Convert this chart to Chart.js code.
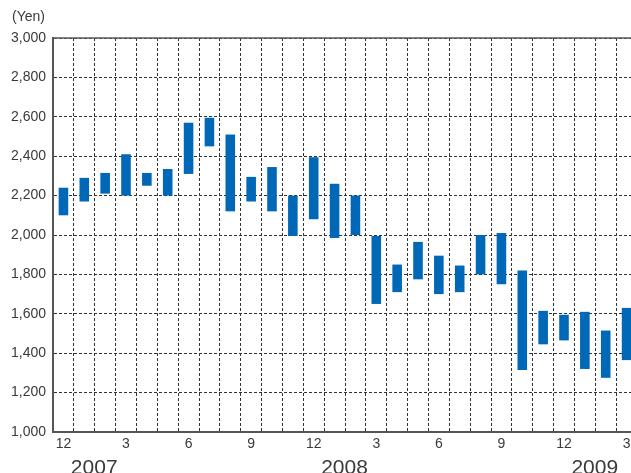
<!DOCTYPE html>
<html>
<head>
<meta charset="utf-8">
<script src="https://cdn.jsdelivr.net/npm/chart.js@4"></script>
<style>
  html, body { margin: 0; padding: 0; background: #fff; overflow: hidden; }
  #wrap { width: 660px; height: 473px; position: relative; }
</style>
</head>
<body>
<div id="wrap"><canvas id="c"></canvas></div>
<script>
// Monthly trading range, Dec 2006 – Mar 2009
const months = ['12','1','2','3','4','5','6','7','8','9','10','11',
                '12','1','2','3','4','5','6','7','8','9','10','11',
                '12','1','2','3'];
const monthlyLow  = [2100, 2170, 2210, 2200, 2250, 2200, 2310, 2450, 2120, 2170, 2120, 1995,
                     2080, 1985, 2000, 1650, 1710, 1775, 1700, 1710, 1800, 1750, 1315, 1445,
                     1465, 1320, 1275, 1365];
const monthlyHigh = [2240, 2290, 2315, 2410, 2315, 2335, 2570, 2595, 2510, 2295, 2345, 2200,
                     2395, 2260, 2200, 1995, 1850, 1965, 1895, 1845, 2000, 2010, 1820, 1615,
                     1595, 1610, 1515, 1630];
const yearLabels = ['2007', '2008', '2009'];
const yearStartIndex = [1, 13, 25];   // category index of each January
const yTicks = { min: 1000, max: 3000, step: 200 };
const unitLabel = '(Yen)';

const ranges = monthlyLow.map((lo, i) => [lo, monthlyHigh[i]]);
const TEXT = '#3a3a3a';
const FONT = '"Liberation Sans", Arial, Helvetica, sans-serif';

const decorations = {
  id: 'decorations',
  afterDraw(chart) {
    const { ctx, chartArea, scales: { x } } = chart;
    ctx.save();
    // solid frame line along the top of the plot
    ctx.strokeStyle = '#5a5a5a';
    ctx.lineWidth = 1.5;
    ctx.beginPath();
    ctx.moveTo(chartArea.left, chartArea.top);
    ctx.lineTo(chartArea.right, chartArea.top);
    ctx.stroke();
    // unit label
    ctx.fillStyle = TEXT;
    ctx.font = '14px ' + FONT;
    ctx.textAlign = 'left';
    ctx.textBaseline = 'middle';
    ctx.fillText(unitLabel, 12, 17);
    // year labels, starting at each January boundary
    const half = (x.getPixelForValue(1) - x.getPixelForValue(0)) / 2;
    ctx.font = '21px ' + FONT;
    ctx.textBaseline = 'alphabetic';
    yearLabels.forEach((yr, i) => {
      const px = x.getPixelForValue(yearStartIndex[i]) - half - 3;
      ctx.fillText(yr, px, 474);
    });
    ctx.restore();
  }
};

new Chart(document.getElementById('c'), {
  type: 'bar',
  data: {
    labels: months,
    datasets: [{
      data: ranges,
      backgroundColor: '#0068b7',
      borderWidth: 0,
      barPercentage: 0.46,
      categoryPercentage: 1.0
    }]
  },
  options: {
    responsive: true,
    maintainAspectRatio: false,
    animation: false,
    layout: { padding: { top: 38, right: 23, bottom: 0, left: 0 } },
    plugins: { legend: { display: false }, tooltip: { enabled: false } },
    scales: {
      x: {
        grid: { color: '#333', lineWidth: 1, offset: true, drawTicks: false },
        border: { display: true, color: '#555', width: 2, dash: [3, 2] },
        ticks: {
          color: TEXT,
          font: { family: FONT, size: 14 },
          padding: 4,
          autoSkip: false,
          maxRotation: 0,
          callback: function (v, i) {
            return (Number(months[i]) % 3 === 0) ? months[i] : '';
          }
        },
        afterFit: s => { s.height = 41; }
      },
      y: {
        min: yTicks.min,
        max: yTicks.max,
        grid: { color: '#333', lineWidth: 1, drawTicks: false },
        border: { display: true, color: '#555', width: 2, dash: [3, 2] },
        ticks: {
          stepSize: yTicks.step,
          color: TEXT,
          font: { family: FONT, size: 14 },
          padding: 7,
          callback: v => v.toLocaleString('en-US')
        },
        afterFit: s => { s.width = 53; }
      }
    }
  },
  plugins: [decorations]
});
</script>
</body>
</html>
